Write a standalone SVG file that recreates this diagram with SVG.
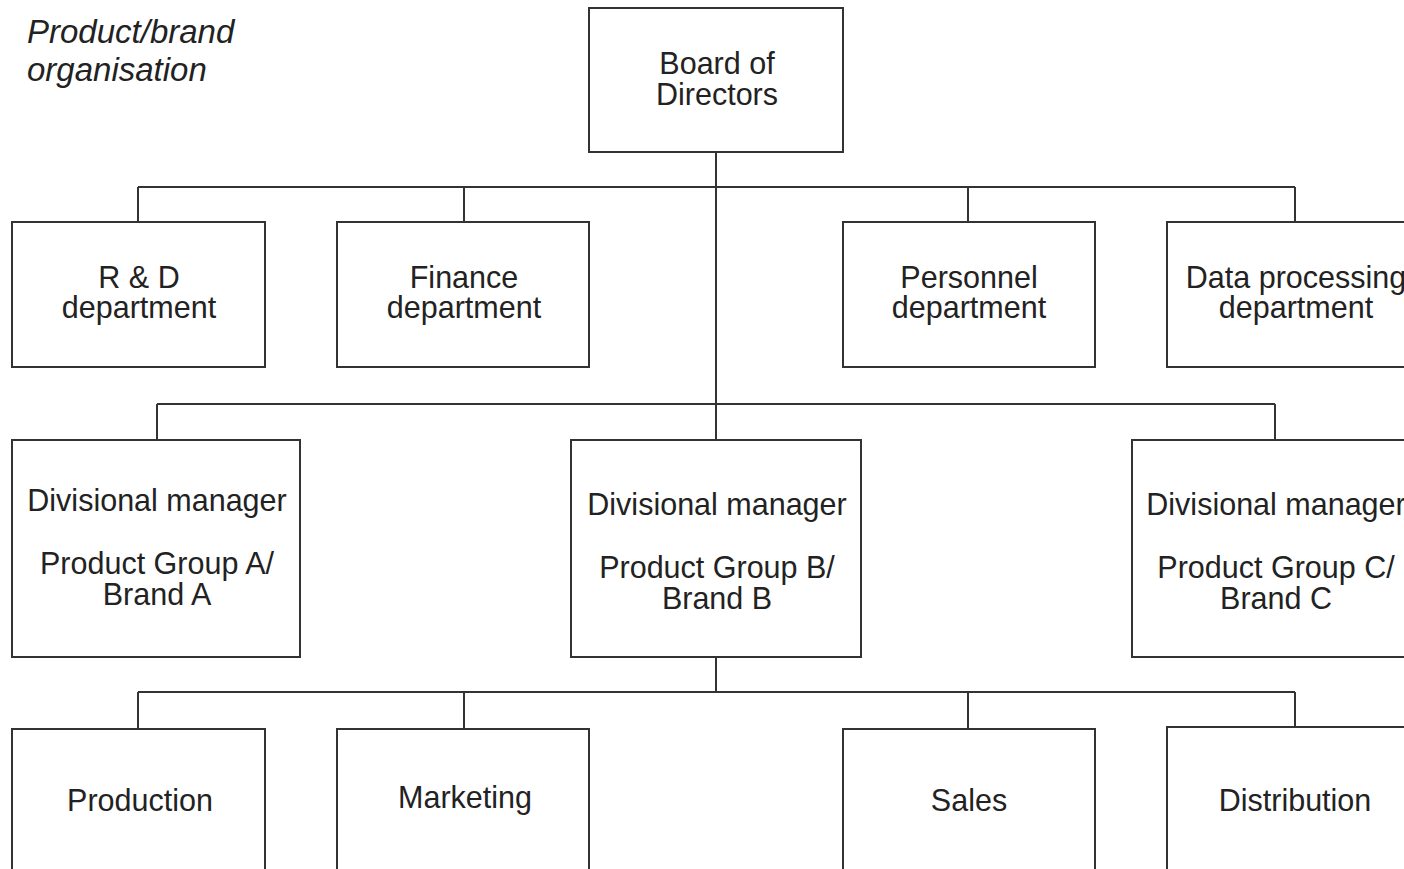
<svg xmlns="http://www.w3.org/2000/svg" width="1404" height="869" viewBox="0 0 1404 869">
<style>
.box{fill:#fff;stroke:#333;stroke-width:2}
.t{font-family:"Liberation Sans",Arial,sans-serif;font-size:30.5px;fill:#222;text-anchor:middle}
.title{font-family:"Liberation Sans",Arial,sans-serif;font-size:33px;font-style:italic;fill:#222}
.c{fill:none;stroke:#333;stroke-width:2}
</style>
<rect width="1404" height="869" fill="#fff"/>
<text class="title" x="27" y="43">Product/brand</text>
<text class="title" x="27" y="81">organisation</text>
<g id="connectors">
<path class="c" d="M716 152V440M138 187H1295M138 187V222M464 187V222M968 187V222M1295 187V222M157 404H1275M157 404V440M1275 404V440M716 657V692M138 692H1295M138 692V729M464 692V729M968 692V729M1295 692V727"/>
</g>
<g id="board"><rect class="box" x="589" y="8" width="254" height="144"/><text class="t" x="717" y="74">Board of</text><text class="t" x="717" y="105">Directors</text></g>
<g id="rd"><rect class="box" x="12" y="222" width="253" height="145"/><text class="t" x="139" y="288">R &amp; D</text><text class="t" x="139" y="318">department</text></g>
<g id="finance"><rect class="box" x="337" y="222" width="252" height="145"/><text class="t" x="464" y="288">Finance</text><text class="t" x="464" y="318">department</text></g>
<g id="personnel"><rect class="box" x="843" y="222" width="252" height="145"/><text class="t" x="969" y="288">Personnel</text><text class="t" x="969" y="318">department</text></g>
<g id="dataproc"><rect class="box" x="1167" y="222" width="260" height="145"/><text class="t" x="1296" y="288">Data processing</text><text class="t" x="1296" y="318">department</text></g>
<g id="divA"><rect class="box" x="12" y="440" width="288" height="217"/><text class="t" x="157" y="511">Divisional manager</text><text class="t" x="157" y="574">Product Group A/</text><text class="t" x="157" y="605">Brand A</text></g>
<g id="divB"><rect class="box" x="571" y="440" width="290" height="217"/><text class="t" x="717" y="515">Divisional manager</text><text class="t" x="717" y="578">Product Group B/</text><text class="t" x="717" y="609">Brand B</text></g>
<g id="divC"><rect class="box" x="1132" y="440" width="290" height="217"/><text class="t" x="1276" y="515">Divisional manager</text><text class="t" x="1276" y="578">Product Group C/</text><text class="t" x="1276" y="609">Brand C</text></g>
<g id="production"><rect class="box" x="12" y="729" width="253" height="160"/><text class="t" x="140" y="811">Production</text></g>
<g id="marketing"><rect class="box" x="337" y="729" width="252" height="160"/><text class="t" x="465" y="808">Marketing</text></g>
<g id="sales"><rect class="box" x="843" y="729" width="252" height="160"/><text class="t" x="969" y="811">Sales</text></g>
<g id="distribution"><rect class="box" x="1167" y="727" width="260" height="160"/><text class="t" x="1295" y="811">Distribution</text></g>
</svg>
